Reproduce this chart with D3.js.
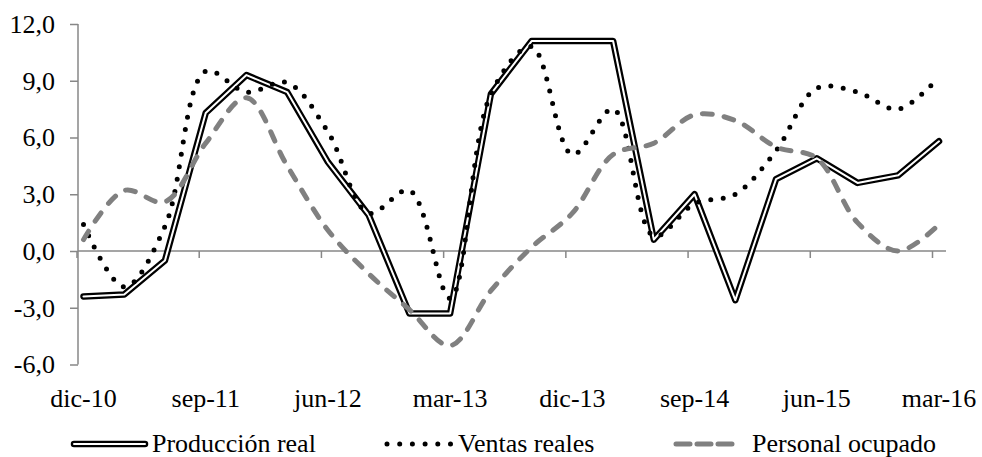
<!DOCTYPE html>
<html>
<head>
<meta charset="utf-8">
<script src="https://cdnjs.cloudflare.com/ajax/libs/d3/7.8.5/d3.min.js"></script>
<style>
    body { margin: 0; background: #fff; }
    svg text { font-family: "Liberation Serif", "Times New Roman", serif; font-size: 26px; fill: #000; }
</style>
</head>
<body>
<svg id="chart" width="982" height="457"></svg>
<script>
// quarterly categories, dic-10 .. mar-16
var categories = ["dic-10", "mar-11", "jun-11", "sep-11", "dic-11", "mar-12", "jun-12", "sep-12",
    "dic-12", "mar-13", "jun-13", "sep-13", "dic-13", "mar-14", "jun-14", "sep-14",
    "dic-14", "mar-15", "jun-15", "sep-15", "dic-15", "mar-16"];

var produccion = [-2.4, -2.3, -0.5, 7.3, 9.3, 8.4, 4.7, 1.9, -3.3, -3.3, 8.3,
    11.1, 11.1, 11.1, 0.6, 3.0, -2.6, 3.8, 4.9, 3.6, 4.0, 5.8];
var ventas = [1.4, -1.9, 1.3, 9.5, 8.4, 8.9, 6.3, 2.0, 3.2, -2.5, 8.3,
    10.8, 5.1, 7.5, 0.8, 2.5, 3.0, 5.3, 8.6, 8.4, 7.5, 9.2];
var personal = [0.6, 3.2, 2.6, 5.7, 8.1, 4.5, 1.1, -1.2, -3.1, -5.0, -2.1,
    0.2, 2.0, 5.1, 5.7, 7.2, 6.9, 5.5, 4.9, 1.5, 0.0, 1.4];

var yTicks = [-6, -3, 0, 3, 6, 9, 12];
var xLabels = ["dic-10", "sep-11", "jun-12", "mar-13", "dic-13", "sep-14", "jun-15", "mar-16"];
var seriesNames = ["Producción real", "Ventas reales", "Personal ocupado"];

var svg = d3.select("#chart");
var axisColor = "#878787";
var serif = "'Liberation Serif', 'Times New Roman', serif";

var x = d3.scalePoint().domain(categories).range([83.5, 939]);
var y = d3.scaleLinear().domain([-6, 12]).range([364.5, 24]);

var locale = d3.formatLocale({decimal: ",", thousands: ".", grouping: [3], currency: ["", ""], minus: "-"});
var fmt = locale.format(".1f");

// y axis
var yAxis = svg.append("g")
    .attr("transform", "translate(78,0)")
    .call(d3.axisLeft(y).tickValues(yTicks).tickSize(8).tickPadding(15).tickFormat(fmt));
yAxis.attr("font-family", serif).attr("font-size", 26);
yAxis.select(".domain").remove();
yAxis.selectAll(".tick line").attr("stroke", axisColor).attr("stroke-width", 1.5);
yAxis.append("line")
    .attr("x1", 0).attr("x2", 0)
    .attr("y1", y(12)).attr("y2", y(-6))
    .attr("stroke", axisColor).attr("stroke-width", 1.5);

// category axis on the zero line
var xAxis = svg.append("g")
    .attr("transform", "translate(0," + y(0) + ")")
    .call(d3.axisBottom(x).tickValues(xLabels).tickSize(7).tickFormat(""));
xAxis.select(".domain").remove();
xAxis.selectAll(".tick")
    .attr("transform", function (d) { return "translate(" + (x(d) - 6.5) + ",0)"; });
xAxis.selectAll(".tick line").attr("stroke", axisColor).attr("stroke-width", 1.5);
xAxis.append("line")
    .attr("x1", 78).attr("x2", 946)
    .attr("y1", 0).attr("y2", 0)
    .attr("stroke", axisColor).attr("stroke-width", 1.5);

svg.selectAll("text.xlab")
    .data(xLabels)
    .enter().append("text")
    .attr("class", "xlab")
    .attr("font-family", serif)
    .attr("x", function (d) { return x(d); })
    .attr("y", 407)
    .attr("text-anchor", "middle")
    .text(function (d) { return d; });

var straight = d3.line()
    .x(function (d, i) { return x(categories[i]); })
    .y(function (d) { return y(d); });
var smooth = d3.line()
    .x(function (d, i) { return x(categories[i]); })
    .y(function (d) { return y(d); })
    .curve(d3.curveCatmullRom.alpha(0.5));

// Producción real: double line
svg.append("path").attr("d", straight(produccion))
    .attr("fill", "none").attr("stroke", "#000").attr("stroke-width", 6.5)
    .attr("stroke-linejoin", "round").attr("stroke-linecap", "round");
svg.append("path").attr("d", straight(produccion))
    .attr("fill", "none").attr("stroke", "#fff").attr("stroke-width", 2)
    .attr("stroke-linejoin", "round").attr("stroke-linecap", "round");

// Ventas reales: round dots
svg.append("path").attr("d", smooth(ventas))
    .attr("fill", "none").attr("stroke", "#000").attr("stroke-width", 5)
    .attr("stroke-dasharray", "0,12.5").attr("stroke-linecap", "round");

// Personal ocupado: gray dashes
svg.append("path").attr("d", smooth(personal))
    .attr("fill", "none").attr("stroke", "#808080").attr("stroke-width", 5)
    .attr("stroke-dasharray", "10,12").attr("stroke-linecap", "round");

// legend
var leg = svg.append("g");
leg.append("line").attr("x1", 74).attr("x2", 145).attr("y1", 444).attr("y2", 444)
    .attr("stroke", "#000").attr("stroke-width", 6.5).attr("stroke-linecap", "round");
leg.append("line").attr("x1", 74).attr("x2", 145).attr("y1", 444).attr("y2", 444)
    .attr("stroke", "#fff").attr("stroke-width", 2).attr("stroke-linecap", "round");
leg.append("line").attr("x1", 387).attr("x2", 451).attr("y1", 444).attr("y2", 444)
    .attr("stroke", "#000").attr("stroke-width", 5)
    .attr("stroke-dasharray", "0,12.7").attr("stroke-linecap", "round");
leg.append("line").attr("x1", 676).attr("x2", 735).attr("y1", 444).attr("y2", 444)
    .attr("stroke", "#808080").attr("stroke-width", 5)
    .attr("stroke-dasharray", "14,7").attr("stroke-linecap", "round");

leg.selectAll("text")
    .data(seriesNames)
    .enter().append("text")
    .attr("font-family", serif)
    .attr("x", function (d, i) { return [152, 458, 752][i]; })
    .attr("y", 452)
    .text(function (d) { return d; });
</script>
</body>
</html>
